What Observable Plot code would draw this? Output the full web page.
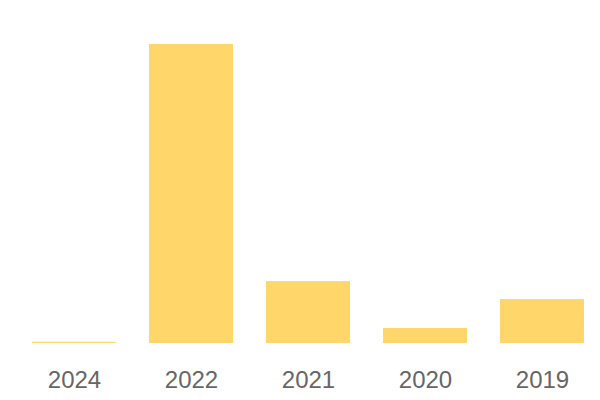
<!DOCTYPE html>
<html>
<head>
<meta charset="utf-8">
<script src="https://cdn.jsdelivr.net/npm/d3@7"></script>
<script src="https://cdn.jsdelivr.net/npm/@observablehq/plot@0.6"></script>
<style>
  html, body { margin: 0; padding: 0; background: #fff; }
</style>
</head>
<body>
<div id="chart"></div>
<script>
const years = ["2024", "2022", "2021", "2020", "2019"];
const values = [0.4, 100, 20.7, 5, 14.7];

const data = years.map((y, i) => ({year: y, value: values[i]}));

const chart = Plot.plot({
  width: 600,
  height: 400,
  marginTop: 44,
  marginBottom: 57,
  marginLeft: 32,
  marginRight: 16,
  style: {background: "#fff", fontFamily: "'Liberation Sans', Arial, sans-serif"},
  x: {domain: years, paddingInner: 0.282, paddingOuter: 0, round: false, label: null},
  y: {domain: [0, 100], axis: null},
  marks: [
    Plot.barY(data, {x: "year", y: "value", fill: "#FED66A"}),
    Plot.axisX({tickSize: 0, tickPadding: 27, fontSize: 24, color: "#666", label: null})
  ]
});
document.getElementById("chart").appendChild(chart);
</script>
</body>
</html>
